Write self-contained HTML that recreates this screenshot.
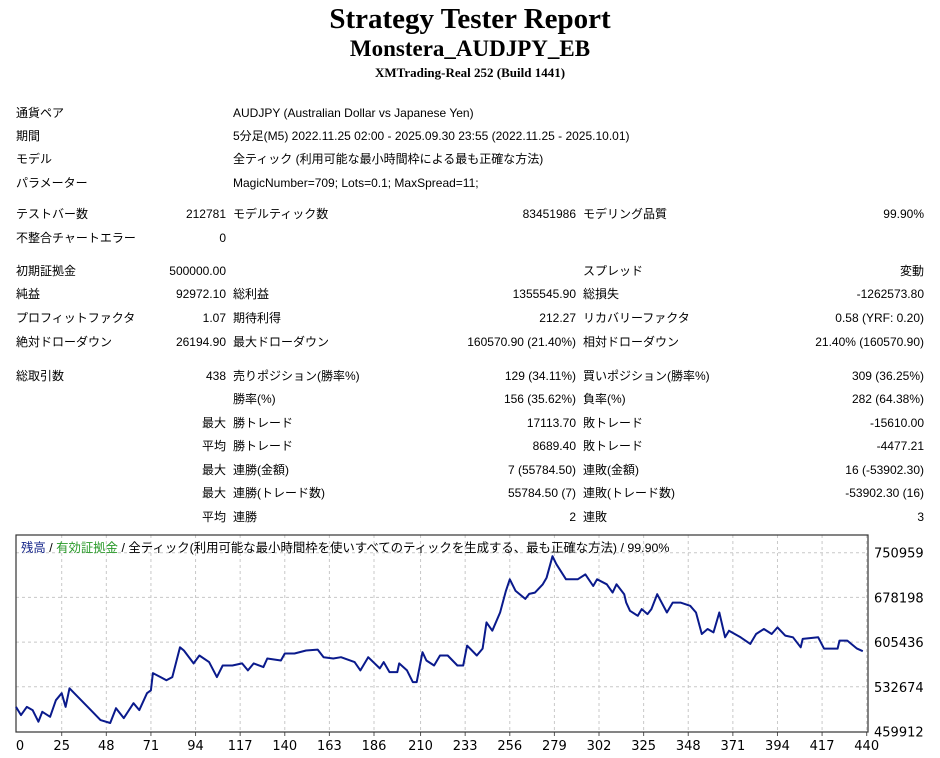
<!DOCTYPE html>
<html><head><meta charset="utf-8">
<style>
body{margin:0;width:940px;height:758px;background:#fff;position:relative;overflow:hidden;font-family:"Liberation Sans","Noto Sans CJK JP",sans-serif;font-size:12px;color:#000}
.t{position:absolute;white-space:nowrap;line-height:14px}
.r{text-align:right}
.h{position:absolute;left:0;width:940px;text-align:center;font-family:"Liberation Serif",serif;font-weight:bold;white-space:nowrap}
</style></head><body>
<div class="h" style="top:2px;font-size:29px;line-height:34px">Strategy Tester Report</div>
<div class="h" style="top:36px;font-size:23px;line-height:26px">Monstera_AUDJPY_EB</div>
<div class="h" style="top:65px;font-size:13px;line-height:16px">XMTrading-Real 252 (Build 1441)</div>
<div id="tbl"></div>
<svg id="chart" width="940" height="758" style="position:absolute;left:0;top:0"></svg>
<script>
const rows=[
[106,[[16,'l','通貨ペア'],[233,'l','AUDJPY (Australian Dollar vs Japanese Yen)']]],
[129,[[16,'l','期間'],[233,'l','5分足(M5) 2022.11.25 02:00 - 2025.09.30 23:55 (2022.11.25 - 2025.10.01)']]],
[152,[[16,'l','モデル'],[233,'l','全ティック (利用可能な最小時間枠による最も正確な方法)']]],
[176,[[16,'l','パラメーター'],[233,'l','MagicNumber=709; Lots=0.1; MaxSpread=11;']]],
[207,[[16,'l','テストバー数'],[226,'r','212781'],[233,'l','モデルティック数'],[576,'r','83451986'],[583,'l','モデリング品質'],[924,'r','99.90%']]],
[231,[[16,'l','不整合チャートエラー'],[226,'r','0']]],
[264,[[16,'l','初期証拠金'],[226,'r','500000.00'],[583,'l','スプレッド'],[924,'r','変動']]],
[287,[[16,'l','純益'],[226,'r','92972.10'],[233,'l','総利益'],[576,'r','1355545.90'],[583,'l','総損失'],[924,'r','-1262573.80']]],
[311,[[16,'l','プロフィットファクタ'],[226,'r','1.07'],[233,'l','期待利得'],[576,'r','212.27'],[583,'l','リカバリーファクタ'],[924,'r','0.58 (YRF: 0.20)']]],
[335,[[16,'l','絶対ドローダウン'],[226,'r','26194.90'],[233,'l','最大ドローダウン'],[576,'r','160570.90 (21.40%)'],[583,'l','相対ドローダウン'],[924,'r','21.40% (160570.90)']]],
[369,[[16,'l','総取引数'],[226,'r','438'],[233,'l','売りポジション(勝率%)'],[576,'r','129 (34.11%)'],[583,'l','買いポジション(勝率%)'],[924,'r','309 (36.25%)']]],
[392,[[233,'l','勝率(%)'],[576,'r','156 (35.62%)'],[583,'l','負率(%)'],[924,'r','282 (64.38%)']]],
[416,[[226,'r','最大'],[233,'l','勝トレード'],[576,'r','17113.70'],[583,'l','敗トレード'],[924,'r','-15610.00']]],
[439,[[226,'r','平均'],[233,'l','勝トレード'],[576,'r','8689.40'],[583,'l','敗トレード'],[924,'r','-4477.21']]],
[463,[[226,'r','最大'],[233,'l','連勝(金額)'],[576,'r','7 (55784.50)'],[583,'l','連敗(金額)'],[924,'r','16 (-53902.30)']]],
[486,[[226,'r','最大'],[233,'l','連勝(トレード数)'],[576,'r','55784.50 (7)'],[583,'l','連敗(トレード数)'],[924,'r','-53902.30 (16)']]],
[510,[[226,'r','平均'],[233,'l','連勝'],[576,'r','2'],[583,'l','連敗'],[924,'r','3']]]
];
const tbl=document.getElementById('tbl');
rows.forEach(([y,cells])=>cells.forEach(([x,a,s])=>{
 const d=document.createElement('div');
 
 
 d.className='t'+(a==='r'?' r':'');
 d.style.top=y+'px';
 if(a==='r'){d.style.right=(940-x)+'px';}else{d.style.left=x+'px';}
 d.textContent=s;tbl.appendChild(d);
}));
</script>
<script>
const trades=[0,4,7,10,13,15,19,22,25,27,29,40,45,50,53,57,62,65,69,71,72,76,79,82,86,88,93,96,101,105,108,113,118,121,124,129,131,138,140,145,151,157,160,165,169,176,179,183,189,191,194,198,199,203,206,208,211,213,217,220,224,229,232,234,239,242,244,247,251,254,256,259,264,266,269,273,275,278,280,285,291,295,299,301,306,309,311,315,316,318,322,324,327,329,332,337,340,344,349,352,355,358,361,364,367,369,375,380,383,387,391,394,398,402,406,407,415,418,425,426,430,435,438];
const balance=[500000,486600,500000,494700,475800,491900,483800,510800,522200,500000,530300,494700,478500,473700,497900,481700,506000,494700,522200,527000,555000,548500,543200,548500,597000,591700,570700,583600,572800,548500,567400,567400,570700,559400,570700,564700,578800,575500,586800,586800,591700,593300,580900,578800,580900,572800,559400,580900,562600,572800,556600,556600,570700,559400,540400,540400,589000,575500,567400,583600,583600,567400,567400,599800,583600,594900,637500,624000,653600,688700,707600,688700,675800,683900,686000,699600,710200,745300,732400,707600,707600,715700,696800,707600,699600,686000,699600,683400,669800,656400,648300,659100,651000,659100,683400,653600,669800,669800,664500,653600,618700,626800,621300,653600,613200,624000,613200,602500,618700,626800,618700,629400,616000,613200,597000,610600,613200,594900,594900,607900,607900,594900,590600];
const xTicks=[0,25,48,71,94,117,140,163,186,210,233,256,279,302,325,348,371,394,417,440];
const yTicks=[750959,678198,605436,532674,459912];
const L=16,T=535,R=868,B=732;
const xs=t=>61.7+(t-25)*805/415;
const ys=v=>731.5-(v-459912)*44.7/72762;
const NS='http://www.w3.org/2000/svg';
const svg=document.getElementById('chart');
function mk(tag,attrs){const e=document.createElementNS(NS,tag);for(const k in attrs)e.setAttribute(k,attrs[k]);svg.appendChild(e);return e;}
xTicks.forEach(t=>{
 if(t>0){const g=mk('line',{x1:xs(t),x2:xs(t),y1:T,y2:B,stroke:'#c8c8c8','stroke-dasharray':'3,3'});
 
 
 const tk=mk('line',{x1:xs(t),x2:xs(t),y1:B,y2:B+4,stroke:'#555'});
 
 }
 const lb=mk('text',{x:t===0?20:xs(t),y:750,'text-anchor':'middle','font-size':'13','font-family':'DejaVu Sans,sans-serif',fill:'#000'});
 
 
 lb.textContent=t;
});
yTicks.forEach(v=>{
 if(v>yTicks[yTicks.length-1]){const g=mk('line',{x1:L,x2:R,y1:ys(v),y2:ys(v),stroke:'#c8c8c8','stroke-dasharray':'3,3'});
 
 }
 const lb=mk('text',{x:874,y:ys(v)+5,'font-size':'13','font-family':'DejaVu Sans,sans-serif',fill:'#000'});
 
 
 lb.textContent=v;
});
const box=mk('rect',{x:L,y:T,width:R-L,height:B-T,fill:'none',stroke:'#333','stroke-width':1.2});


const pts=trades.map((t,i)=>Math.max(L,xs(t)).toFixed(1)+','+ys(balance[i]).toFixed(1)).join(' ');
const line=mk('polyline',{points:pts,fill:'none',stroke:'#0a1a8c','stroke-width':2,'stroke-linejoin':'round'});


const leg=mk('text',{x:21,y:552,'font-size':'12.4','font-family':'Liberation Sans,Noto Sans CJK JP,sans-serif'});


leg.innerHTML='<tspan fill="#1a2a8c">残高</tspan><tspan fill="#000"> / </tspan><tspan fill="#2a9a2a">有効証拠金</tspan><tspan fill="#000"> / 全ティック(利用可能な最小時間枠を使いすべてのティックを生成する、最も正確な方法) / 99.90%</tspan>';
</script>
</body></html>
